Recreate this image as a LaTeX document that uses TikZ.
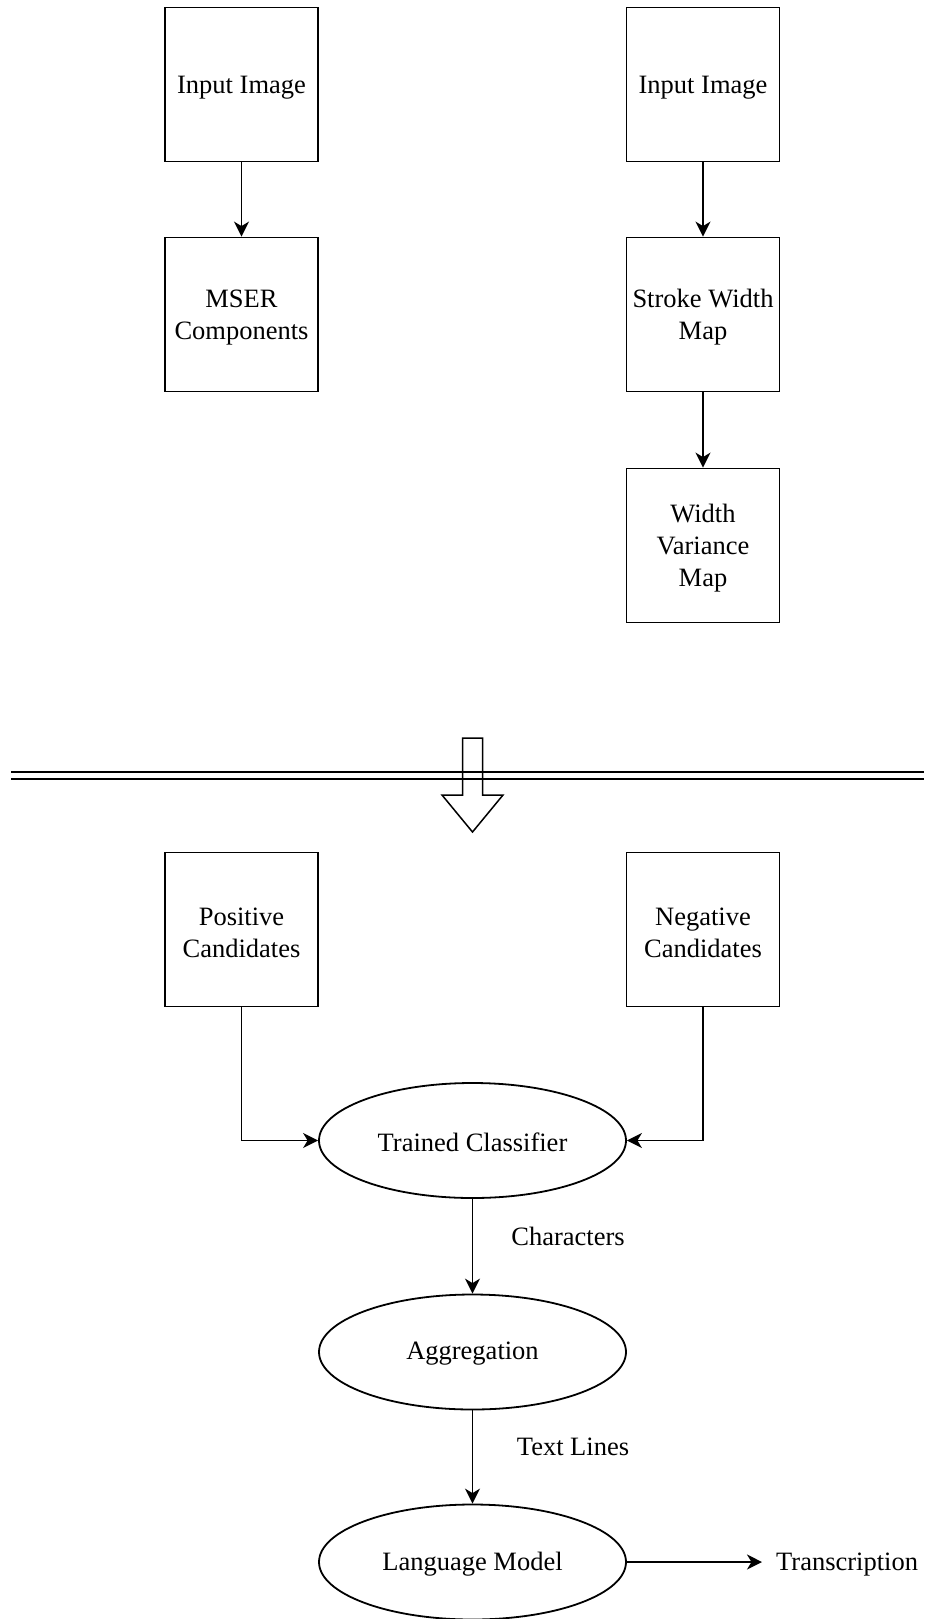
\documentclass[tikz,border=0pt]{standalone}
\usepackage{fontspec}
\setmainfont{Liberation Serif}
\usetikzlibrary{shapes.geometric,arrows.meta}
\begin{document}
\begin{tikzpicture}[x=1pt,y=-1pt,
  every node/.style={font=\fontsize{26.5}{32}\selectfont},
  box/.style={draw,line width=1.8pt,rectangle,minimum width=153pt,minimum height=154pt,inner sep=0pt,
    label={[yshift=-3pt,align=center,inner sep=0pt]center:#1}},
  oval/.style={draw,line width=1.8pt,ellipse,minimum width=307pt,minimum height=115pt,inner sep=0pt,
    label={[yshift=-2pt,align=center,inner sep=0pt]center:#1}},
  arr/.style={line width=1.8pt,-{Stealth[length=15pt,width=15pt,inset=4.5pt]}},
  lbl/.style={inner sep=0pt}
]
\useasboundingbox (0,0) rectangle (924,1619);
% top row
\node[box={Input Image}] (in1) at (241.5,84.5) {};
\node[box={Input Image}] (in2) at (703,84.5) {};
\node[box={MSER\\Components}] (mser) at (241.5,314.5) {};
\node[box={Stroke Width\\Map}] (swm) at (703,314.5) {};
\node[box={Width\\Variance\\Map}] (wvm) at (703,545.5) {};
\draw[arr] (in1) -- (mser);
\draw[arr] (in2) -- (swm);
\draw[arr] (swm) -- (wvm);
% separator
\coordinate (l1a) at (11,772); \coordinate (l1b) at (924,772);
\coordinate (l2a) at (11,779); \coordinate (l2b) at (924,779);
\draw[line width=1.8pt] (l1a) -- (l1b);
\draw[line width=1.8pt] (l2a) -- (l2b);
\draw[line width=1.5pt,line join=miter] (462.5,738) -- (482.5,738) -- (482.5,795) -- (503,795) -- (472.5,832) -- (442,795) -- (462.5,795) -- cycle;
% bottom
\node[box={Positive\\Candidates}] (pos) at (241.5,929.5) {};
\node[box={Negative\\Candidates}] (neg) at (703,929.5) {};
\node[oval={Trained Classifier}] (tc) at (472.5,1140.5) {};
\node[oval={Aggregation}] (agg) at (472.5,1352) {};
\node[oval={Language Model}] (lm) at (472.5,1562) {};
\draw[arr] (pos.south) |- (tc.west);
\draw[arr] (neg.south) |- (tc.east);
\draw[arr] (tc) -- (agg);
\draw[arr] (agg) -- (lm);
\node[lbl] (chars) at (568,1236) {Characters};
\node[lbl] (tl) at (573,1447) {Text Lines};
\node[lbl,anchor=west] (tr) at (776,1565) {Transcription};
\draw[arr,shorten >=14pt] (lm.east) -- (tr.west |- lm.east);
\end{tikzpicture}
\end{document}
